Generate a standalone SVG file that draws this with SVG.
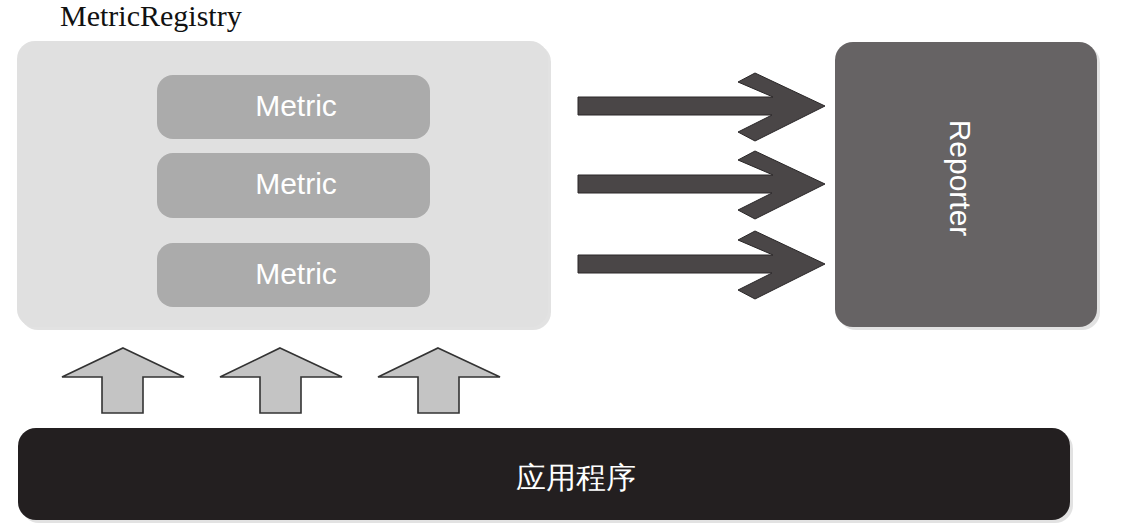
<svg xmlns="http://www.w3.org/2000/svg" width="1121" height="524" viewBox="0 0 1121 524">
<style>
.lbl{font-family:"Liberation Sans",Arial,sans-serif;font-size:30px;fill:#ffffff;text-anchor:middle;dominant-baseline:central}
.metric{fill:#ababab}
.rarrow{fill:#4a4647;stroke:#2a2728;stroke-width:1}
.uarrow{fill:#c4c4c4;stroke:#333333;stroke-width:1.6;stroke-linejoin:miter}
.shadow{fill:#cfcfcf;opacity:0.6}
</style>
<rect width="1121" height="524" fill="#ffffff"/>
<g id="registry">
<rect class="shadow" x="20" y="44" width="531" height="286" rx="18"/>
<rect x="17" y="41" width="531" height="286" rx="18" fill="#e0e0e0"/>
<text x="60" y="26" font-family="Liberation Serif,'Times New Roman',serif" font-size="30" fill="#111111">MetricRegistry</text>
</g>
<g id="metric1">
<rect class="metric" x="157" y="75" width="273" height="64" rx="16"/>
<text class="lbl" x="296" y="105">Metric</text>
</g>
<g id="metric2">
<rect class="metric" x="157" y="153" width="273" height="65" rx="16"/>
<text class="lbl" x="296" y="183">Metric</text>
</g>
<g id="metric3">
<rect class="metric" x="157" y="243" width="273" height="64" rx="16"/>
<text class="lbl" x="296" y="273">Metric</text>
</g>
<g id="reporter">
<rect class="shadow" x="838" y="45" width="262" height="285" rx="18"/>
<rect x="835" y="42" width="262" height="285" rx="18" fill="#666364"/>
<text class="lbl" x="960" y="178" transform="rotate(90 960 178)">Reporter</text>
</g>
<g id="app">
<rect class="shadow" x="21" y="431" width="1052" height="92" rx="18"/>
<rect x="18" y="428" width="1052" height="92" rx="18" fill="#231f20"/>
<text class="lbl" x="576" y="477" font-family="'Noto Sans CJK SC','Liberation Sans',sans-serif">应用程序</text>
</g>
<g id="connectors">
<polygon class="rarrow" points="578,97 773,97 738,82 755,73 825,106 755,141 738,132 772,115 578,115"/>
<polygon class="rarrow" points="578,175 773,175 738,160 755,151 825,184 755,219 738,210 772,193 578,193"/>
<polygon class="rarrow" points="578,255 773,255 738,240 755,231 825,264 755,299 738,290 772,273 578,273"/>
<polygon class="uarrow" points="123,348 184,377 143,377 143,413 102,413 102,377 62,377"/>
<polygon class="uarrow" points="280,348 342,377 301,377 301,413 260,413 260,377 220,377"/>
<polygon class="uarrow" points="438,348 500,377 459,377 459,413 418,413 418,377 378,377"/>
</g>
</svg>
